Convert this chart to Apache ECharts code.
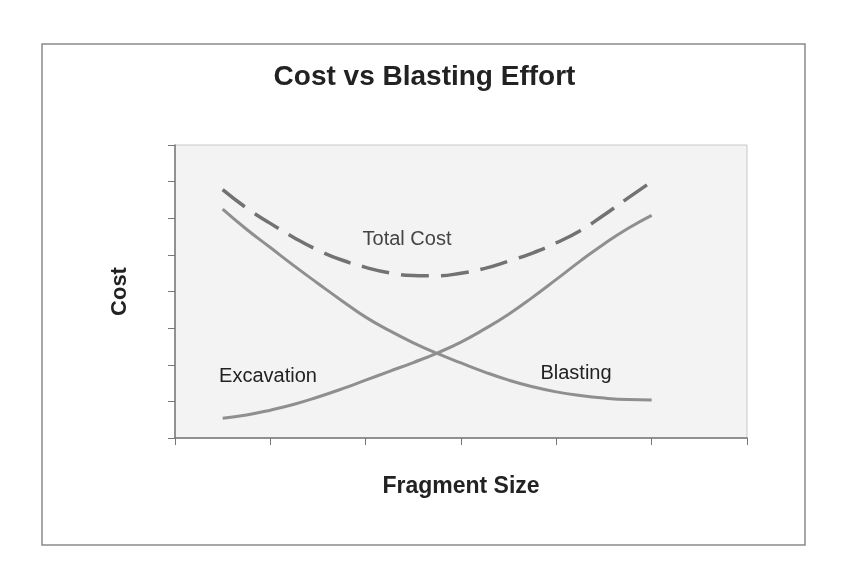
<!DOCTYPE html>
<html>
<head>
<meta charset="utf-8">
<script src="https://cdn.jsdelivr.net/npm/echarts@6/dist/echarts.min.js"></script>
<style>
html,body{margin:0;padding:0;background:#fff;}
#chart{width:849px;height:573px;}
</style>
</head>
<body>
<div id="chart"></div>
<script>
// Data
var fragmentSize = [0.5, 0.75, 1.0, 1.25, 1.5, 1.75, 2.0, 2.25, 2.5, 2.75, 3.0, 3.25, 3.5, 3.75, 4.0, 4.25, 4.5, 4.75, 5.0];
var excavation   = [0.54, 0.63, 0.76, 0.92, 1.12, 1.34, 1.58, 1.82, 2.06, 2.32, 2.62, 2.98, 3.38, 3.84, 4.33, 4.83, 5.30, 5.72, 6.08];
var blasting     = [6.25, 5.70, 5.20, 4.70, 4.22, 3.75, 3.30, 2.93, 2.60, 2.31, 2.05, 1.80, 1.58, 1.40, 1.26, 1.16, 1.09, 1.05, 1.04];
var totalCost    = [6.78, 6.28, 5.86, 5.47, 5.13, 4.86, 4.66, 4.51, 4.44, 4.43, 4.50, 4.63, 4.83, 5.05, 5.33, 5.66, 6.09, 6.55, 7.00];

function pairs(xs, ys) { return xs.map(function (x, i) { return [x, ys[i]]; }); }

var FONT = '"Liberation Sans", Arial, sans-serif';
var chart = echarts.init(document.getElementById('chart'));
chart.setOption({
  animation: false,
  backgroundColor: '#ffffff',
  title: {
    text: 'Cost vs Blasting Effort',
    left: 'center',
    top: 63,
    padding: 0,
    textStyle: { fontFamily: FONT, fontSize: 28, fontWeight: 'bold', color: '#222' }
  },
  grid: {
    left: 175, top: 145, width: 572, height: 293,
    show: true, backgroundColor: '#f3f3f3', borderColor: '#c8c8c8', borderWidth: 1
  },
  xAxis: {
    type: 'value', min: 0, max: 6, interval: 1,
    name: 'Fragment Size', nameLocation: 'middle', nameGap: 37,
    nameTextStyle: { fontFamily: FONT, fontSize: 23, fontWeight: 'bold', color: '#222' },
    axisLine: { show: true, lineStyle: { color: '#777', width: 1.5 } },
    axisTick: { show: true, length: 7, lineStyle: { color: '#777' } },
    axisLabel: { show: false },
    splitLine: { show: false }
  },
  yAxis: {
    type: 'value', min: 0, max: 8, interval: 1,
    name: 'Cost', nameLocation: 'middle', nameGap: 44, nameRotate: 90,
    nameTextStyle: { fontFamily: FONT, fontSize: 22, fontWeight: 'bold', color: '#222' },
    axisLine: { show: true, lineStyle: { color: '#777', width: 1.5 } },
    axisTick: { show: true, length: 7, lineStyle: { color: '#777' } },
    axisLabel: { show: false },
    splitLine: { show: false }
  },
  graphic: [
    { type: 'rect', shape: { x: 42, y: 44, width: 763, height: 501 },
      style: { fill: 'none', stroke: '#8a8a8a', lineWidth: 1.5 }, z: 0, silent: true },
    { type: 'text', x: 407, y: 239, style: { text: 'Total Cost', fontFamily: FONT, fontSize: 20,
      fill: '#444', textAlign: 'center', textVerticalAlign: 'middle' }, z: 100 },
    { type: 'text', x: 268, y: 376, style: { text: 'Excavation', fontFamily: FONT, fontSize: 20,
      fill: '#222', textAlign: 'center', textVerticalAlign: 'middle' }, z: 100 },
    { type: 'text', x: 576, y: 373, style: { text: 'Blasting', fontFamily: FONT, fontSize: 20,
      fill: '#222', textAlign: 'center', textVerticalAlign: 'middle' }, z: 100 }
  ],
  series: [
    { name: 'Excavation', type: 'line', data: pairs(fragmentSize, excavation), smooth: true,
      showSymbol: false, lineStyle: { color: '#8f8f8f', width: 3 } },
    { name: 'Blasting', type: 'line', data: pairs(fragmentSize, blasting), smooth: true,
      showSymbol: false, lineStyle: { color: '#8f8f8f', width: 3 } },
    { name: 'Total Cost', type: 'line', data: pairs(fragmentSize, totalCost), smooth: true,
      showSymbol: false, lineStyle: { color: '#727272', width: 3.5, type: [28, 12] } }
  ]
});
</script>
</body>
</html>
